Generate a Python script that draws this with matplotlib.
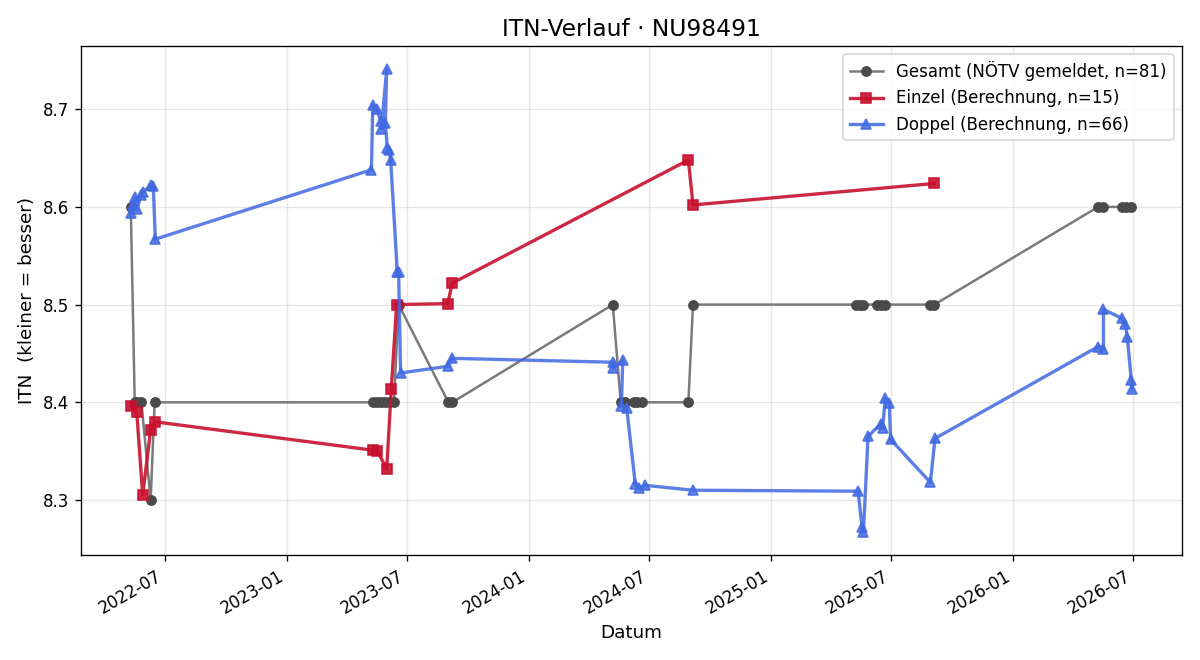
import pandas as pd
import numpy as np
import matplotlib
matplotlib.use("Agg")
import matplotlib.pyplot as plt
import matplotlib.dates as mdates

# Gesamt (gemeldeter ITN)
gesamt_dates = ["2022-05-11", "2022-05-17", "2022-05-21", "2022-05-27", "2022-06-10", "2022-06-16",
                "2023-05-11", "2023-05-17", "2023-05-23", "2023-05-30", "2023-06-05", "2023-06-12",
                "2023-06-19", "2023-09-02", "2023-09-08",
                "2024-05-07", "2024-05-19", "2024-05-25", "2024-06-08", "2024-06-13", "2024-06-20",
                "2024-08-29", "2024-09-05",
                "2025-05-09", "2025-05-15", "2025-05-20", "2025-06-10", "2025-06-15", "2025-06-22",
                "2025-08-29", "2025-09-04",
                "2026-05-09", "2026-05-17", "2026-06-14", "2026-06-20", "2026-06-28"]
gesamt_vals = [8.6, 8.4, 8.4, 8.4, 8.3, 8.4,
               8.4, 8.4, 8.4, 8.4, 8.4, 8.4,
               8.5, 8.4, 8.4,
               8.5, 8.4, 8.4, 8.4, 8.4, 8.4,
               8.4, 8.5,
               8.5, 8.5, 8.5, 8.5, 8.5, 8.5,
               8.5, 8.5,
               8.6, 8.6, 8.6, 8.6, 8.6]

# Einzel (Berechnung)
einzel_dates = ["2022-05-12", "2022-05-20", "2022-05-29", "2022-06-10", "2022-06-17",
                "2023-05-11", "2023-05-18", "2023-06-01", "2023-06-08", "2023-06-16",
                "2023-09-01", "2023-09-08",
                "2024-08-29", "2024-09-05", "2025-09-04"]
einzel_vals = [8.396, 8.390, 8.305, 8.372, 8.380,
               8.351, 8.350, 8.332, 8.414, 8.500,
               8.501, 8.522,
               8.648, 8.602, 8.624]

# Doppel (Berechnung)
doppel_dates = ["2022-05-11", "2022-05-15", "2022-05-18", "2022-05-21", "2022-05-26", "2022-05-29",
                "2022-06-11", "2022-06-14", "2022-06-17",
                "2023-05-09", "2023-05-11", "2023-05-17", "2023-05-23", "2023-05-24", "2023-06-01",
                "2023-05-30", "2023-06-02", "2023-06-05", "2023-06-07", "2023-06-17", "2023-06-19",
                "2023-06-22", "2023-09-02", "2023-09-08",
                "2024-05-07", "2024-05-08", "2024-05-22", "2024-05-20", "2024-05-28", "2024-06-10",
                "2024-06-15", "2024-06-25", "2024-09-05",
                "2025-05-12", "2025-05-18", "2025-05-20", "2025-05-27", "2025-06-15", "2025-06-18",
                "2025-06-22", "2025-06-28", "2025-06-30", "2025-08-29", "2025-09-05",
                "2026-05-09", "2026-05-17", "2026-05-17", "2026-06-14", "2026-06-19", "2026-06-22",
                "2026-06-28", "2026-06-29"]
doppel_vals = [8.594, 8.602, 8.610, 8.598, 8.612, 8.615,
               8.622, 8.621, 8.567,
               8.638, 8.704, 8.700, 8.688, 8.680, 8.741,
               8.686, 8.660, 8.658, 8.648, 8.533, 8.533,
               8.430, 8.437, 8.445,
               8.441, 8.435, 8.443, 8.396, 8.394, 8.316,
               8.312, 8.315, 8.310,
               8.309, 8.272, 8.267, 8.365, 8.378, 8.374,
               8.404, 8.399, 8.362, 8.318, 8.363,
               8.457, 8.455, 8.495, 8.486, 8.480, 8.467,
               8.423, 8.414]

fig, ax = plt.subplots(figsize=(10, 5.5), dpi=120)

ax.plot(pd.to_datetime(gesamt_dates), gesamt_vals, color="#7a7a7a", lw=1.5,
        marker="o", ms=5.5, mfc="#4a4a4a", mec="#4a4a4a",
        label="Gesamt (NÖTV gemeldet, n=81)")
ax.plot(pd.to_datetime(einzel_dates), einzel_vals, color="#C8102E", lw=2, alpha=0.9,
        marker="s", ms=6.5, label="Einzel (Berechnung, n=15)")
ax.plot(pd.to_datetime(doppel_dates), doppel_vals, color="#4169E1", lw=2, alpha=0.85,
        marker="^", ms=6.5, label="Doppel (Berechnung, n=66)")

ax.set_title("ITN-Verlauf · NU98491", fontsize=14)
ax.set_xlabel("Datum", fontsize=11)
ax.set_ylabel("ITN  (kleiner = besser)", fontsize=11)
ax.grid(True, alpha=0.3)
ax.xaxis.set_major_locator(mdates.MonthLocator(bymonth=[1, 7]))
ax.xaxis.set_major_formatter(mdates.DateFormatter("%Y-%m"))
ax.legend(loc="upper right")
fig.autofmt_xdate()
fig.tight_layout()
fig.savefig("out.png")
